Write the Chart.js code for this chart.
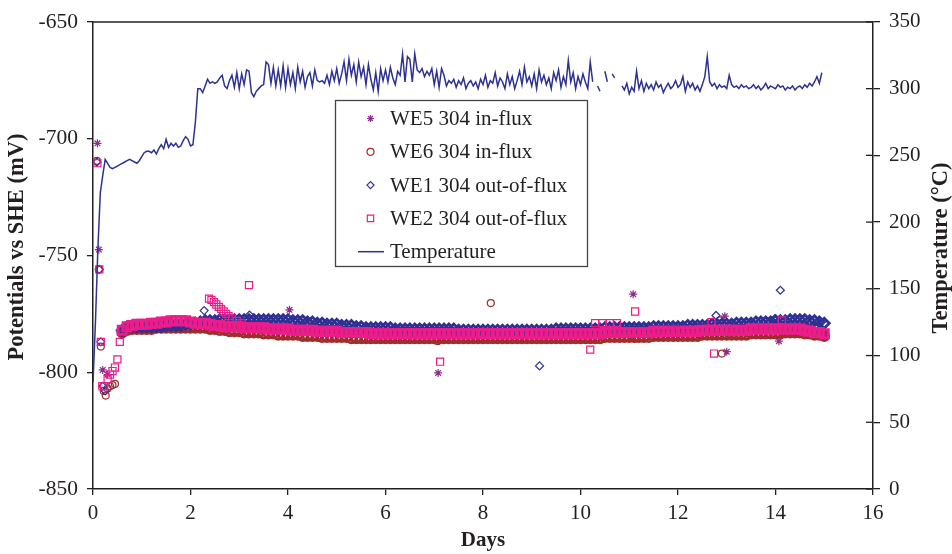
<!DOCTYPE html>
<html>
<head>
<meta charset="utf-8">
<title>Potentials vs SHE and temperature</title>
<script src="https://cdn.jsdelivr.net/npm/chart.js@4.4.0/dist/chart.umd.min.js"></script>
<style>
  html, body { margin: 0; padding: 0; background: #fff; }
  #chart { display: block; }
</style>
</head>
<body>
<canvas id="chart" width="952" height="554"></canvas>
<script>
'use strict';

// Axis ticks.
var dayTicks = [0, 2, 4, 6, 8, 10, 12, 14, 16];
var mvTicks = [-850, -800, -750, -700, -650];
var tempTicks = [0, 50, 100, 150, 200, 250, 300, 350];

// Temperature log, one reading every 0.05 days from day 0 (null = no reading).
var tempStart = 0;
var tempStep = 0.05;
var tempValues = [
  80, 125, 180, 222, 235, 247, 244, 241, 240, 241,
  242, 243, 244, 245, 246, 247, 246, 245, 244, 246,
  249, 252, 253, 253, 252, 254, 251, 255, 258, 255,
  262, 256, 259, 257, 259, 256, 257, 261, 264, 262,
  257, 258, 275, 300, 300, 297, 302, 307, 304, 305,
  304, 305, 308, 310, 302, 300, 306, 310, 301, 312,
  300, 311, 303, 314, 313, 297, 294, 298, 300, 302,
  303, 320, 318, 304, 316, 302, 314, 302, 317, 301,
  315, 303, 312, 300, 316, 305, 313, 301, 309, 312,
  302, 314, 306, 305, 306, 304, 310, 303, 313, 306,
  315, 304, 311, 320, 306, 322, 310, 318, 305, 320,
  309, 316, 303, 318, 307, 299, 312, 298, 315, 306,
  314, 305, 316, 308, 303, 313, 310, 326, 305, 324,
  322, 305, 326, 314, 312, 315, 309, 313, 310, 315,
  303, 313, 301, 315, 310, 302, 306, 304, 307, 301,
  306, 303, 308, 300, 304, 306, 302, 305, 300, 307,
  303, 310, 301, 306, 304, 312, 302, 308, 305, 300,
  311, 303, 309, 300, 306, 313, 303, 316, 305, 309,
  302, 311, 300, 314, 305, 310, 303, 308, 300, 312,
  306, 314, 301, 309, 303, 321, 305, 312, 300, 309,
  303, 311, 305, 300, 320, 305, null, 302, 298, null,
  313, 305, null, 311, 308, null, null, 302, 299, 304,
  296, 301, 298, 313, 300, 306, 298, 304, 300, 303,
  299, 305, 301, 303, 297, 301, 304, 300, 302, 306,
  301, 303, 309, 298, 305, 301, 304, 299, 302, 298,
  303, 309, 324, 305, 302, 304, 300, 303, 301, 302,
  300, 310, 303, 301, 302, 300, 303, 301, 302, 300,
  301, 303, 300, 302, 299, 301, 304, 300, 302, 301,
  300, 303, 301, 302, 299, 301, 300, 302, 299, 301,
  302, 300, 303, 301, 304, 302, 305, 309, 304, 312
];

// Electrode potentials (mV vs SHE), steady band read every 0.1 days from day 0.6.
var bandStart = 0.6;
var bandStep = 0.1;

var we5Band = [
  -782.5, -781, -780.5, -780,
  -780, -780, -779.5, -779.5, -779, -779, -779, -779, -779, -779,
  -779, -779.5, -779.5, -779.5, -780, -780, -780.5, -781, -781, -781,
  -781, -781.5, -781.5, -781.5, -781.5, -782, -782, -782, -782, -782,
  -782, -782.5, -782.5, -782.5, -782.5, -782.5, -783, -783, -783, -783,
  -783, -783.5, -783.5, -783.5, -783.5, -783.5, -783.5, -783.5, -783.5, -783.5,
  -784, -784, -784, -784, -784, -784, -784, -784, -784, -784,
  -784, -784, -784, -784, -784, -784, -784, -784, -784, -784,
  -784, -784, -784, -784, -784, -784, -784, -784, -784, -784,
  -784, -784, -784, -784, -784, -784, -784, -784, -784, -784,
  -784, -784, -784, -784, -784, -783.5, -783.5, -783.5, -783.5, -783.5,
  -783.5, -783.5, -783.5, -783.5, -783.5, -783, -783, -783, -783, -783,
  -783, -783, -783, -783, -783, -782.5, -782.5, -782.5, -782.5, -782.5,
  -782.5, -782.5, -782.5, -782.5, -782.5, -782, -782, -782, -782, -782,
  -782, -782, -782, -782, -782, -782, -782.5, -783, -783.5, -783.5,
  -784
];
var we6Band = [
  -783, -782, -781.5, -781.5,
  -781.5, -781.5, -781.5, -781, -781, -781, -781, -781, -781, -781,
  -781, -781, -781, -781, -781.5, -781.5, -782, -782, -782.5, -782.5,
  -782.5, -783, -783, -783, -783, -783.5, -783.5, -783.5, -784, -784,
  -784, -784, -784, -784.5, -784.5, -784.5, -784.5, -785, -785, -785,
  -785, -785, -785, -785.5, -785.5, -785.5, -785.5, -785.5, -785.5, -785.5,
  -785.5, -785.5, -785.5, -785.5, -785.5, -785.5, -785.5, -785.5, -785.5, -785.5,
  -785.5, -785.5, -785.5, -785.5, -785.5, -785.5, -785.5, -785.5, -785.5, -785.5,
  -785.5, -785.5, -785.5, -785.5, -785.5, -785.5, -785.5, -785.5, -785.5, -785.5,
  -785.5, -785.5, -785.5, -785.5, -785.5, -785.5, -785.5, -785.5, -785.5, -785.5,
  -785.5, -785.5, -785.5, -785.5, -785.5, -785, -785, -785, -785, -785,
  -785, -785, -785, -785, -785, -784.5, -784.5, -784.5, -784.5, -784.5,
  -784.5, -784.5, -784.5, -784.5, -784.5, -784, -784, -784, -784, -784,
  -784, -784, -784, -784, -784, -783.5, -783.5, -783.5, -783.5, -783.5,
  -783.5, -783.5, -783, -783, -783, -783, -783.5, -783.5, -784, -784,
  -784.5
];
var we1Band = [
  -782, -780.5, -780.5, -780.5,
  -780.5, -780.5, -780.5, -780.5, -780.5, -780, -780, -780, -780, -779.5,
  -779.5, -779, -778.5, -778, -778, -778, -777.5, -777.5, -777.5, -777.5,
  -777.5, -777.5, -777.5, -777.5, -777.5, -777.5, -777.5, -777.5, -777.5, -777.5,
  -777.5, -778, -778, -778, -778.5, -778.5, -779, -779, -779.5, -779.5,
  -779.5, -780, -780, -780, -780.5, -780.5, -781, -781, -781, -781,
  -781, -781, -781.5, -781.5, -781.5, -781.5, -781.5, -781.5, -781.5, -781.5,
  -781.5, -781.5, -781.5, -781.5, -781.5, -782, -782, -782, -782, -782,
  -782, -782, -782, -782, -782, -782, -782, -782, -782, -782,
  -782, -782, -782, -782, -782, -781.5, -781.5, -781.5, -781.5, -781.5,
  -781.5, -781.5, -781.5, -781.5, -781.5, -781, -781, -781, -781, -781,
  -781, -781, -781, -781, -781, -780.5, -780.5, -780.5, -780.5, -780.5,
  -780.5, -780.5, -780, -780, -780, -780, -780, -779.5, -779.5, -779.5,
  -779.5, -779.5, -779, -779, -779, -779, -778.5, -778.5, -778.5, -778.5,
  -778, -778, -778, -777.5, -777.5, -777.5, -777.5, -778, -778, -778.5,
  -779
];
var we2Band = [
  -782, -780.5, -780, -779.5,
  -779.5, -779.5, -779, -779, -778.5, -778.5, -778, -778, -778, -778,
  -778.5, -779, -779, -779, -779.5, -780, -780, -780.5, -780.5, -780.5,
  -780.5, -781, -781, -781, -781, -781, -781.5, -781.5, -781.5, -781.5,
  -781.5, -782, -782, -782, -782, -782, -782.5, -782.5, -782.5, -782.5,
  -782.5, -783, -783, -783, -783, -783, -783, -783.5, -783.5, -783.5,
  -783.5, -783.5, -783.5, -783.5, -783.5, -783.5, -783.5, -783.5, -783.5, -783.5,
  -783.5, -783.5, -783.5, -783.5, -783.5, -783.5, -783.5, -783.5, -783.5, -783.5,
  -783.5, -783.5, -783.5, -783.5, -783.5, -783.5, -783.5, -783.5, -783.5, -783.5,
  -783.5, -783.5, -783.5, -783.5, -783.5, -783.5, -783.5, -783.5, -783.5, -783.5,
  -783.5, -783.5, -783.5, -783.5, -783.5, -783, -783, -783, -783, -783,
  -783, -783, -783, -783, -783, -782.5, -782.5, -782.5, -782.5, -782.5,
  -782.5, -782.5, -782.5, -782.5, -782.5, -782, -782, -782, -782, -782,
  -782, -782, -782, -782, -782, -781.5, -781.5, -781.5, -781.5, -781.5,
  -781.5, -781.5, -781.5, -781.5, -781.5, -781.5, -782, -782.5, -783, -783,
  -783.5
];

// Start-up transients and scattered readings, [day, mV].
var we5Extra = [
  [0.09, -702], [0.12, -747.5], [0.2, -799], [0.3, -801],
  [4.03, -773.3], [7.08, -800.3], [11.08, -766.6], [12.96, -776], [13.0, -791.2], [14.07, -786.7]
];
var we6Extra = [
  [0.08, -709.5], [0.12, -756], [0.16, -789], [0.22, -808], [0.26, -810], [0.3, -807],
  [0.35, -806], [0.4, -805.5], [0.45, -805],
  [7.07, -786.7], [8.16, -770.4], [11.12, -785.6], [12.86, -777.8], [12.9, -792], [13.0, -784.2], [14.07, -783.5]
];
var we1Extra = [
  [0.08, -710], [0.13, -756], [0.16, -787], [0.2, -806], [0.25, -808],
  [2.28, -773.6], [3.21, -775.5], [9.16, -797.3], [12.78, -775.7], [13.99, -777], [14.1, -764.9]
];
var we2Extra = [
  [0.09, -710.5], [0.13, -756], [0.16, -787], [0.19, -806], [0.23, -806], [0.3, -803],
  [0.35, -801], [0.4, -799.5], [0.45, -798], [0.5, -794.5], [0.55, -787],
  [2.38, -768.5], [2.43, -769], [2.48, -770], [2.53, -771], [2.58, -772], [2.63, -773],
  [2.68, -774], [2.73, -775], [2.78, -776], [2.85, -777], [2.95, -778], [3.05, -779],
  [3.2, -762.7], [7.12, -795.5], [10.2, -790.3], [10.3, -779], [10.45, -779], [10.6, -779],
  [10.75, -779], [11.12, -774], [12.69, -778.5], [12.74, -792], [14.13, -777.8]
];

var INK = '#231f20';
var FONT = "'Liberation Serif', 'Times New Roman', serif";

function seriesPoints(start, step, values, extras) {
  var pts = values.map(function (v, i) {
    return { x: Math.round((start + i * step) * 100) / 100, y: v };
  });
  (extras || []).forEach(function (p) { pts.push({ x: p[0], y: p[1] }); });
  return pts;
}

// Band readings are packed so tightly they read as a solid stroke; lone readings stay thin.
function marker(label, color, style, radius, bandRadius, band, extras, order) {
  var bandLength = band.length;
  return {
    label: label,
    data: seriesPoints(bandStart, bandStep, band, extras),
    yAxisID: 'y',
    showLine: false,
    pointStyle: style,
    pointRadius: function (c) { return c.dataIndex < bandLength ? bandRadius : radius; },
    pointHoverRadius: radius,
    pointBorderWidth: function (c) { return c.dataIndex < bandLength ? 2.8 : 1.2; },
    borderColor: color,
    pointBorderColor: color,
    backgroundColor: 'rgba(0,0,0,0)',
    pointBackgroundColor: 'rgba(0,0,0,0)',
    legendRadius: style === 'rect' ? 4.5 : 3.5,
    order: order
  };
}

var datasets = [
  marker('WE5 304 in-flux', '#8e2b8f', 'star', 4, 4.5, we5Band, we5Extra, 4),
  marker('WE6 304 in-flux', '#9f2d2b', 'circle', 3.5, 4.5, we6Band, we6Extra, 3),
  marker('WE1 304 out-of-flux', '#2e3192', 'rectRot', 4, 5, we1Band, we1Extra, 2),
  marker('WE2 304 out-of-flux', '#ec1c8c', 'rect', 5, 5.8, we2Band, we2Extra, 1),
  {
    label: 'Temperature',
    data: seriesPoints(tempStart, tempStep, tempValues),
    yAxisID: 'yT',
    showLine: true,
    spanGaps: false,
    borderColor: '#2e3192',
    backgroundColor: '#2e3192',
    borderWidth: 1.5,
    pointRadius: 0,
    tension: 0,
    order: 0
  }
];

// Draws the closed frame, the crossing ticks on the right, axis titles and the boxed legend.
var framePlugin = {
  id: 'frame',
  afterDraw: function (chart) {
    var ctx = chart.ctx;
    var area = chart.chartArea;
    var yT = chart.scales.yT;

    ctx.save();
    ctx.strokeStyle = INK;
    ctx.lineWidth = 1.5;
    ctx.beginPath();
    ctx.moveTo(area.left, area.top);
    ctx.lineTo(area.right, area.top);
    ctx.stroke();

    ctx.lineWidth = 1.3;
    tempTicks.forEach(function (t) {
      var y = yT.getPixelForValue(t);
      ctx.beginPath();
      ctx.moveTo(area.right - 7, y);
      ctx.lineTo(area.right, y);
      ctx.stroke();
    });

    // Axis titles.
    ctx.fillStyle = INK;
    ctx.font = 'bold 21px ' + FONT;
    ctx.textAlign = 'center';
    ctx.textBaseline = 'middle';
    ctx.fillText('Days', (area.left + area.right) / 2, 541);

    ctx.font = 'bold 22.5px ' + FONT;
    ctx.save();
    ctx.translate(17, 247);
    ctx.rotate(-Math.PI / 2);
    ctx.fillText('Potentials vs SHE (mV)', 0, 0);
    ctx.restore();

    ctx.save();
    ctx.translate(941, 248);
    ctx.rotate(-Math.PI / 2);
    ctx.fillText('Temperature (\u00b0C)', 0, 0);
    ctx.restore();

    // Legend box.
    var box = { left: 335.5, top: 100.5, right: 587.5, bottom: 266.5 };
    ctx.fillStyle = '#fff';
    ctx.fillRect(box.left, box.top, box.right - box.left, box.bottom - box.top);
    ctx.strokeStyle = '#444';
    ctx.lineWidth = 1.3;
    ctx.strokeRect(box.left, box.top, box.right - box.left, box.bottom - box.top);

    ctx.font = '21px ' + FONT;
    ctx.textAlign = 'left';
    chart.data.datasets.forEach(function (ds, i) {
      var y = 118.5 + i * 33.3;
      if (ds.showLine) {
        ctx.strokeStyle = ds.borderColor;
        ctx.lineWidth = 1.5;
        ctx.beginPath();
        ctx.moveTo(358, y);
        ctx.lineTo(384, y);
        ctx.stroke();
      } else {
        ctx.strokeStyle = ds.pointBorderColor;
        ctx.fillStyle = 'rgba(0,0,0,0)';
        ctx.lineWidth = 1.2;
        Chart.helpers.drawPoint(ctx, {
          pointStyle: ds.pointStyle,
          rotation: 0,
          radius: ds.legendRadius,
          borderWidth: 1.2
        }, 370.5, y);
      }
      ctx.fillStyle = INK;
      ctx.fillText(ds.label, 390, y + 1);
    });
    ctx.restore();
  }
};

Chart.defaults.font.family = FONT;
Chart.defaults.color = INK;

var chart = new Chart(document.getElementById('chart').getContext('2d'), {
  type: 'scatter',
  data: { datasets: datasets },
  options: {
    responsive: false,
    animation: false,
    layout: { padding: { top: 16, left: 0, right: 0, bottom: 0 } },
    plugins: {
      legend: { display: false },
      tooltip: { enabled: false }
    },
    scales: {
      x: {
        type: 'linear',
        min: dayTicks[0],
        max: dayTicks[dayTicks.length - 1],
        afterBuildTicks: function (scale) { scale.ticks = dayTicks.map(function (v) { return { value: v }; }); },
        ticks: { color: INK, font: { size: 21 }, padding: 6, maxRotation: 0 },
        grid: { drawOnChartArea: false, tickLength: 6, color: INK, lineWidth: 1.3 },
        border: { color: INK, width: 1.5 },
        afterFit: function (scale) { scale.height = 65; }
      },
      y: {
        type: 'linear',
        position: 'left',
        min: mvTicks[0],
        max: mvTicks[mvTicks.length - 1],
        afterBuildTicks: function (scale) { scale.ticks = mvTicks.map(function (v) { return { value: v }; }); },
        ticks: { color: INK, font: { size: 21.5 }, padding: 9 },
        grid: { drawOnChartArea: false, tickLength: 6, color: INK, lineWidth: 1.3 },
        border: { color: INK, width: 1.5 },
        afterFit: function (scale) { scale.width = 93; }
      },
      yT: {
        type: 'linear',
        position: 'right',
        min: tempTicks[0],
        max: tempTicks[tempTicks.length - 1],
        afterBuildTicks: function (scale) { scale.ticks = tempTicks.map(function (v) { return { value: v }; }); },
        ticks: { color: INK, font: { size: 21 }, padding: 9 },
        grid: { drawOnChartArea: false, tickLength: 7, color: INK, lineWidth: 1.3 },
        border: { color: INK, width: 1.5 },
        afterFit: function (scale) { scale.width = 79; }
      }
    }
  },
  plugins: [framePlugin]
});
</script>
</body>
</html>
